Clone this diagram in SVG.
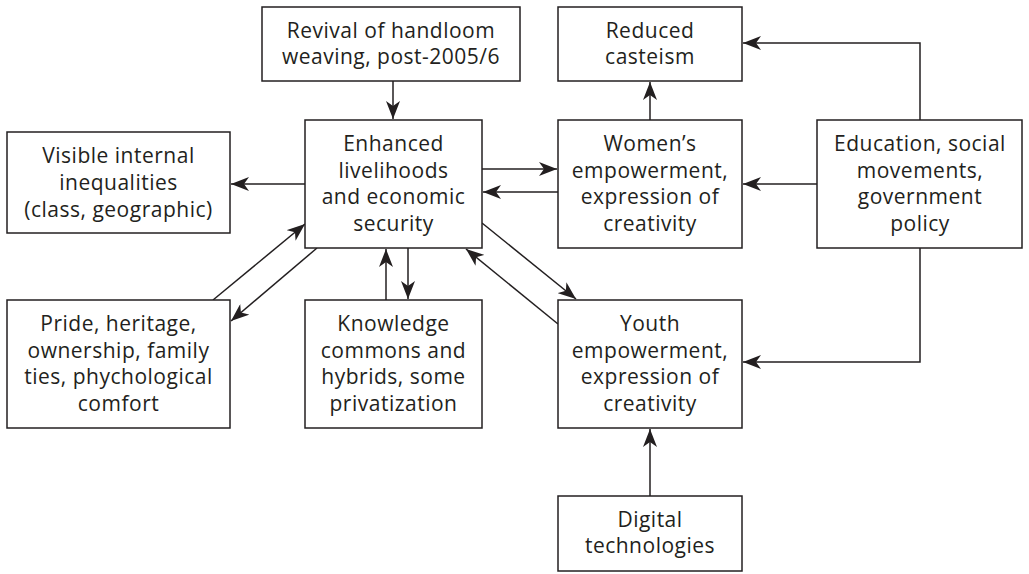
<svg xmlns="http://www.w3.org/2000/svg" width="1029" height="574" viewBox="0 0 1029 574">
<style>
.box{fill:#fff;stroke:#231f20;stroke-width:1.5}
.t{font-family:"Open Sans","Liberation Sans",sans-serif;font-size:21px;letter-spacing:0.5px;fill:#231f20;text-anchor:middle}
.c{fill:none;stroke:#231f20;stroke-width:1.5}
.a{marker-end:url(#ah)}
</style>
<defs>
<marker id="ah" viewBox="0 0 18 14" refX="18" refY="7" markerWidth="18" markerHeight="14" orient="auto" markerUnits="userSpaceOnUse">
<path d="M0,0 L18,7 L0,14 L5,7 z" fill="#231f20"/>
</marker>
</defs>
<rect width="1029" height="574" fill="#fff"/>
<g id="connectors">
<line class="c a" x1="393" y1="81" x2="393" y2="119"/>
<line class="c a" x1="305" y1="184" x2="231" y2="184"/>
<line class="c a" x1="482" y1="169" x2="557" y2="169"/>
<line class="c a" x1="558" y1="192" x2="483" y2="192"/>
<line class="c a" x1="650" y1="120" x2="650" y2="82"/>
<polyline class="c a" points="920,120 920,43 743,43"/>
<line class="c a" x1="817" y1="184" x2="743" y2="184"/>
<polyline class="c a" points="920,248 920,362 743,362"/>
<line class="c a" x1="650" y1="496" x2="650" y2="429"/>
<line class="c a" x1="213" y1="300" x2="305" y2="224"/>
<line class="c a" x1="317" y1="248" x2="231" y2="321"/>
<line class="c a" x1="386" y1="300" x2="386" y2="249"/>
<line class="c a" x1="408" y1="248" x2="408" y2="299"/>
<line class="c a" x1="482" y1="223" x2="576" y2="299"/>
<line class="c a" x1="558" y1="324" x2="466" y2="249"/>
</g>
<g id="revival">
<rect class="box" x="262" y="7" width="258" height="74"/>
<text class="t" x="391" y="38">Revival of handloom</text>
<text class="t" x="391" y="64">weaving, post-2005/6</text>
</g>
<g id="reduced">
<rect class="box" x="558" y="7" width="184" height="74"/>
<text class="t" x="650" y="38">Reduced</text>
<text class="t" x="650" y="64">casteism</text>
</g>
<g id="visible">
<rect class="box" x="7" y="132" width="223" height="101"/>
<text class="t" x="118.5" y="163">Visible internal</text>
<text class="t" x="118.5" y="190">inequalities</text>
<text class="t" x="118.5" y="217">(class, geographic)</text>
</g>
<g id="enhanced">
<rect class="box" x="305" y="120" width="177" height="128"/>
<text class="t" x="393.5" y="151">Enhanced</text>
<text class="t" x="393.5" y="178">livelihoods</text>
<text class="t" x="393.5" y="204">and economic</text>
<text class="t" x="393.5" y="231">security</text>
</g>
<g id="women">
<rect class="box" x="558" y="120" width="184" height="128"/>
<text class="t" x="650" y="151">Women’s</text>
<text class="t" x="650" y="178">empowerment,</text>
<text class="t" x="650" y="204">expression of</text>
<text class="t" x="650" y="231">creativity</text>
</g>
<g id="education">
<rect class="box" x="817" y="120" width="205" height="128"/>
<text class="t" x="920" y="151">Education, social</text>
<text class="t" x="920" y="178">movements,</text>
<text class="t" x="920" y="204">government</text>
<text class="t" x="920" y="231">policy</text>
</g>
<g id="pride">
<rect class="box" x="7" y="300" width="223" height="128"/>
<text class="t" x="118.5" y="331">Pride, heritage,</text>
<text class="t" x="118.5" y="358">ownership, family</text>
<text class="t" x="118.5" y="384">ties, phychological</text>
<text class="t" x="118.5" y="411">comfort</text>
</g>
<g id="knowledge">
<rect class="box" x="305" y="300" width="177" height="128"/>
<text class="t" x="393.5" y="331">Knowledge</text>
<text class="t" x="393.5" y="358">commons and</text>
<text class="t" x="393.5" y="384">hybrids, some</text>
<text class="t" x="393.5" y="411">privatization</text>
</g>
<g id="youth">
<rect class="box" x="558" y="300" width="184" height="128"/>
<text class="t" x="650" y="331">Youth</text>
<text class="t" x="650" y="358">empowerment,</text>
<text class="t" x="650" y="384">expression of</text>
<text class="t" x="650" y="411">creativity</text>
</g>
<g id="digital">
<rect class="box" x="558" y="496" width="184" height="75"/>
<text class="t" x="650" y="527">Digital</text>
<text class="t" x="650" y="553">technologies</text>
</g>
</svg>
